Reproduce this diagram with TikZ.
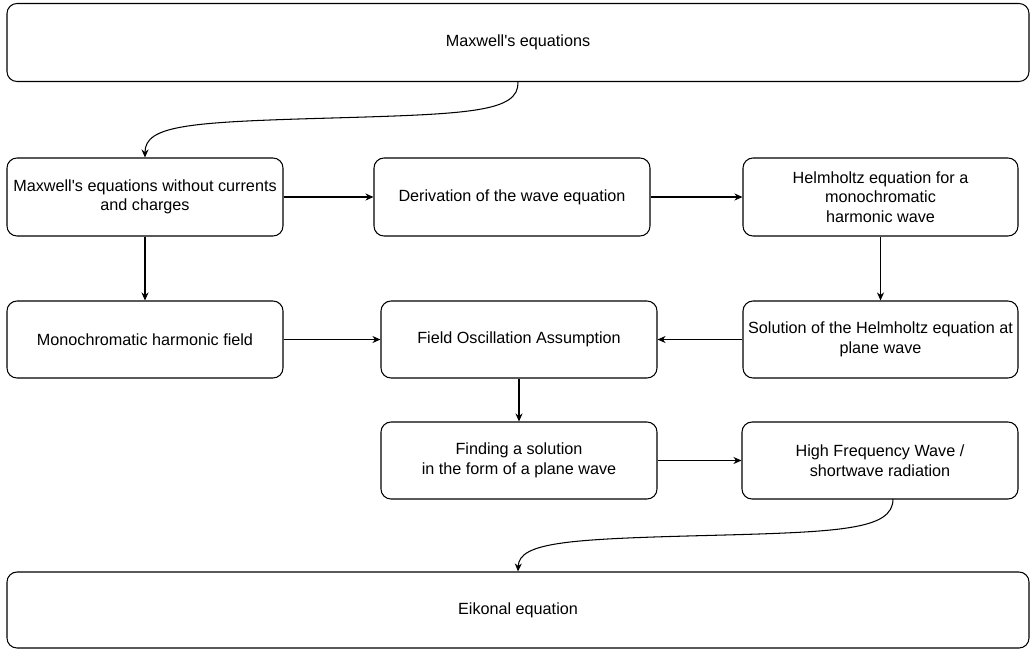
\documentclass[tikz,border=0pt]{standalone}
\usepackage{fontspec}
\setmainfont{Liberation Sans}
\usetikzlibrary{arrows.meta}
\newcommand{\apos}{\textquotesingle}
\begin{document}
\begin{tikzpicture}[x=1pt,y=-1pt,
  box/.style={draw=black,line width=1.05pt,rounded corners=10pt,inner sep=0pt,
    align=center,font=\fontsize{16.2}{19.4}\selectfont,minimum height=77pt},
  conn/.style={line width=1.05pt,-{Stealth[length=8pt,width=7pt,inset=2.5pt]}}]
\useasboundingbox (0,0) rectangle (1030,649);
\node[box,minimum width=1022pt,minimum height=78pt] (top) at (518,42.5) {Maxwell\apos s equations};
\node[box,minimum width=276pt,minimum height=78pt] (A) at (145,197) {Maxwell\apos s equations without currents\\and charges};
\node[box,minimum width=276pt,minimum height=78pt] (B) at (512,197) {Derivation of the wave equation};
\node[box,minimum width=275pt,minimum height=78pt] (C) at (880.5,197) {Helmholtz equation for a\\monochromatic\\harmonic wave};
\node[box,minimum width=276pt] (D) at (145,339.5) {Monochromatic harmonic field};
\node[box,minimum width=276pt] (E) at (519,339.5) {Field Oscillation Assumption};
\node[box,minimum width=275pt] (F) at (880.5,339.5) {Solution of the Helmholtz equation at\\plane wave};
\node[box,minimum width=276pt] (G) at (519,460.5) {Finding a solution\\in the form of a plane wave};
\node[box,minimum width=276pt] (H) at (880,460.5) {High Frequency Wave /\\shortwave radiation};
\node[box,minimum width=1022pt,minimum height=76pt] (bot) at (518,610) {Eikonal equation};
\coordinate (m1) at (332,118);
\coordinate (m2) at (706,535.5);
\coordinate (hs) at (893,499);
\draw[line width=1.05pt] (top.south) .. controls (519,112) and (470,114) .. (m1);
\draw[conn] (m1) .. controls (190,122) and (145,125) .. (A.north);
\draw[line width=1.05pt] (hs) .. controls (893,530) and (840,532) .. (m2);
\draw[conn] (m2) .. controls (570,539) and (519,542) .. (bot.north);
\draw[conn] (A.east) -- (B.west);
\draw[conn] (B.east) -- (C.west);
\draw[conn] (C.south) -- (F.north);
\draw[conn] (A.south) -- (D.north);
\draw[conn] (D.east) -- (E.west);
\draw[conn] (F.west) -- (E.east);
\draw[conn] (E.south) -- (G.north);
\draw[conn] (G.east) -- (H.west);
\end{tikzpicture}
\end{document}
